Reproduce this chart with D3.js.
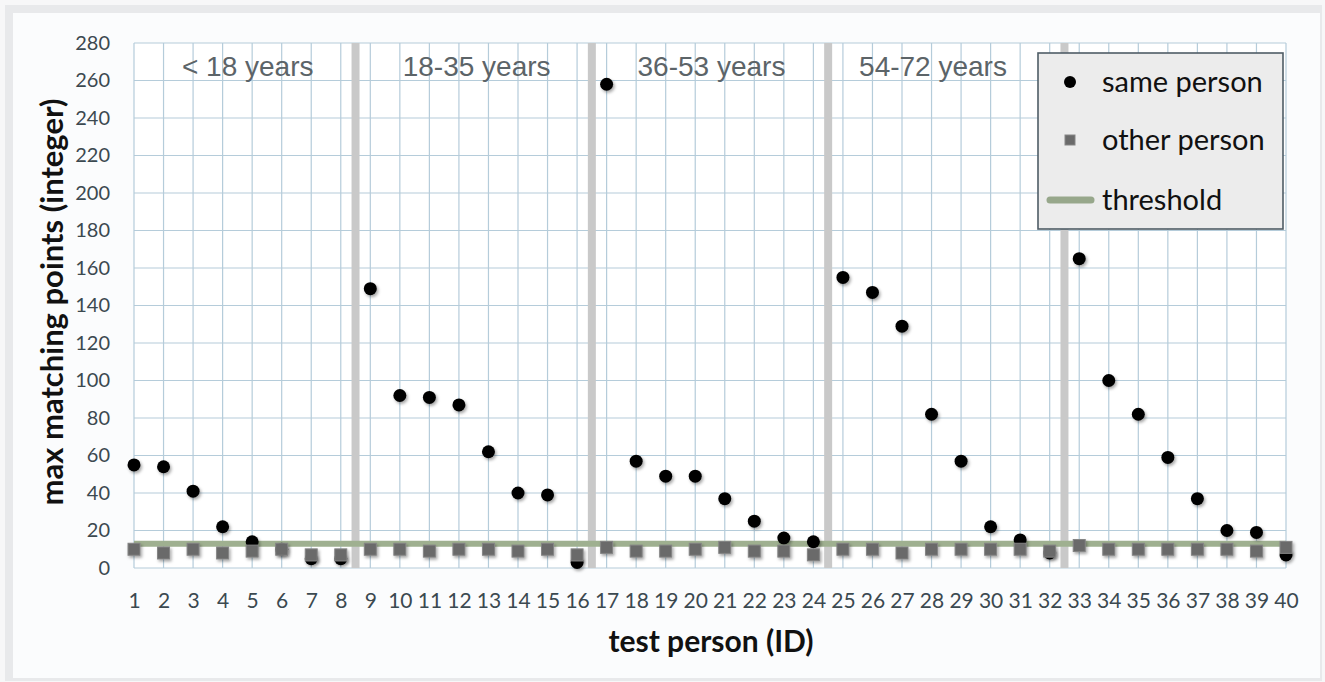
<!DOCTYPE html>
<html>
<head>
<meta charset="utf-8">
<script src="https://d3js.org/d3.v7.min.js"></script>
<style>
    body { margin: 0; background: #f7f7f8; }
    .tick text { fill: #3b4950; font-family: Lato, "Open Sans", sans-serif; font-size: 20px; }
    .grid line { stroke: #b5ccda; stroke-width: 1.2; }
</style>
</head>
<body>
<script>
//test person IDs on the x axis
var ids = d3.range(1, 41);

//max matching points, same person (black dots)
var samePerson = [55, 54, 41, 22, 14, 10, 5, 5, 149, 92,
    91, 87, 62, 40, 39, 3, 258, 57, 49, 49,
    37, 25, 16, 14, 155, 147, 129, 82, 57, 22,
    15, 8, 165, 100, 82, 59, 37, 20, 19, 7];

//max matching points, other person (grey squares)
var otherPerson = [10, 8, 10, 8, 9, 10, 7, 7, 10, 10,
    9, 10, 10, 9, 10, 7, 11, 9, 9, 10,
    11, 9, 9, 7, 10, 10, 8, 10, 10, 10,
    10, 9, 12, 10, 10, 10, 10, 10, 9, 11];

//threshold value
var threshold = 13;

//age groups: label, boundary after which a grey band is drawn, label anchor (ID units)
var ageGroups = ["< 18 years", "18-35 years", "36-53 years", "54-72 years"];
var groupBounds = [8.5, 16.5, 24.5, 32.5];
var groupLabelAt = [4.85, 12.6, 20.55, 28.05];

//y tick values
var yTicks = d3.range(0, 281, 20);

//legend entries
var legendItems = ["same person", "other person", "threshold"];

//SVG dimension variables
var w = 1325, h = 682;

var svg = d3.select("body")
    .append("svg")
    .attr("width", w)
    .attr("height", h)
    .attr("class", "container");

//drop shadow for the markers
var defs = svg.append("defs");
var shadow = defs.append("filter")
    .attr("id", "shadow")
    .attr("x", "-50%").attr("y", "-50%")
    .attr("width", "200%").attr("height", "200%");
shadow.append("feDropShadow")
    .attr("dx", 1.5)
    .attr("dy", 2)
    .attr("stdDeviation", 1.6)
    .attr("flood-color", "#000")
    .attr("flood-opacity", 0.35);

//outer frame
svg.append("rect")
    .attr("x", 5).attr("y", 5)
    .attr("width", 1317).attr("height", 676)
    .style("fill", "#e8e9eb");
svg.append("rect")
    .attr("x", 13).attr("y", 13)
    .attr("width", 1307).attr("height", 665)
    .style("fill", "#fbfcfd");

//scales
var x = d3.scaleLinear()
    .domain([1, 40])
    .range([134, 1286]);

var y = d3.scaleLinear()
    .domain([0, 280])
    .range([568, 43]);

//plot area
svg.append("rect")
    .attr("x", x(1))
    .attr("y", y(280))
    .attr("width", x(40) - x(1))
    .attr("height", y(0) - y(280))
    .style("fill", "#ffffff");

//horizontal grid
var hGrid = svg.append("g")
    .attr("class", "grid")
    .selectAll("line")
    .data(yTicks)
    .enter()
    .append("line")
    .attr("x1", x(1))
    .attr("x2", x(40))
    .attr("y1", function(d){ return y(d); })
    .attr("y2", function(d){ return y(d); });

//vertical grid
var vGrid = svg.append("g")
    .attr("class", "grid")
    .selectAll("line")
    .data(ids)
    .enter()
    .append("line")
    .attr("x1", function(d){ return x(d); })
    .attr("x2", function(d){ return x(d); })
    .attr("y1", y(280))
    .attr("y2", y(0));

//grey bands between age groups
var bands = svg.selectAll(".bands")
    .data(groupBounds)
    .enter()
    .append("line")
    .attr("class", "bands")
    .attr("x1", function(d){ return x(d); })
    .attr("x2", function(d){ return x(d); })
    .attr("y1", y(280))
    .attr("y2", y(0))
    .style("stroke", "#c9c9c9")
    .style("stroke-width", 8);

//age group labels
var groupLabels = svg.selectAll(".groupLabels")
    .data(ageGroups)
    .enter()
    .append("text")
    .attr("class", "groupLabels")
    .attr("text-anchor", "middle")
    .attr("x", function(d, i){ return x(groupLabelAt[i]); })
    .attr("y", 76)
    .style("font-family", "'Liberation Sans', Arial, sans-serif")
    .style("font-size", "28px")
    .style("fill", "#5c6468")
    .text(function(d){ return d; });

//threshold line
var thresholdLine = svg.append("line")
    .attr("class", "thresholdLine")
    .attr("x1", x(1))
    .attr("x2", x(40))
    .attr("y1", y(threshold))
    .attr("y2", y(threshold))
    .style("stroke", "#9fb090")
    .style("stroke-width", 6);

//same person dots
var dots = svg.selectAll(".dots")
    .data(samePerson)
    .enter()
    .append("circle")
    .attr("class", "dots")
    .attr("cx", function(d, i){ return x(ids[i]); })
    .attr("cy", function(d){ return y(d); })
    .attr("r", 6.5)
    .attr("filter", "url(#shadow)")
    .style("fill", "#000");

//other person squares
var sq = 12;
var squares = svg.selectAll(".squares")
    .data(otherPerson)
    .enter()
    .append("rect")
    .attr("class", "squares")
    .attr("x", function(d, i){ return x(ids[i]) - sq / 2; })
    .attr("y", function(d){ return y(d) - sq / 2; })
    .attr("width", sq)
    .attr("height", sq)
    .attr("filter", "url(#shadow)")
    .style("fill", "#6a6a6a")
    .style("stroke", "#858585")
    .style("stroke-width", 1);

//axes
var yAxis = svg.append("g")
    .attr("class", "axis")
    .attr("transform", "translate(" + x(1) + ",0)")
    .call(d3.axisLeft(y).tickValues(yTicks).tickSize(0).tickPadding(24));
yAxis.select(".domain").remove();

var xAxis = svg.append("g")
    .attr("class", "axis")
    .attr("transform", "translate(0," + y(0) + ")")
    .call(d3.axisBottom(x).tickValues(ids).tickSize(0).tickPadding(25));
xAxis.select(".domain").remove();
xAxis.selectAll("text").style("font-size", "21px");

//axis titles
svg.append("text")
    .attr("class", "yTitle")
    .attr("text-anchor", "middle")
    .attr("transform", "translate(63,302) rotate(-90)")
    .style("font-family", "Lato, sans-serif")
    .style("font-weight", "bold")
    .style("font-size", "31px")
    .style("fill", "#111")
    .text("max matching points (integer)");

svg.append("text")
    .attr("class", "xTitle")
    .attr("text-anchor", "middle")
    .attr("x", 711)
    .attr("y", 652)
    .style("font-family", "Lato, sans-serif")
    .style("font-weight", "bold")
    .style("font-size", "30px")
    .style("fill", "#111")
    .text("test person (ID)");

//legend
var legend = svg.append("g")
    .attr("class", "legend")
    .attr("transform", "translate(1038,53)");

legend.append("rect")
    .attr("width", 245)
    .attr("height", 176)
    .style("fill", "#ececec")
    .style("stroke", "#4f5d66")
    .style("stroke-width", 1.6);

var rowY = [29, 87, 147];

legend.append("circle")
    .attr("cx", 32).attr("cy", rowY[0])
    .attr("r", 6)
    .style("fill", "#000");

legend.append("rect")
    .attr("x", 27).attr("y", rowY[1] - 5)
    .attr("width", 10).attr("height", 10)
    .style("fill", "#6a6a6a")
    .style("stroke", "#858585");

legend.append("line")
    .attr("x1", 12).attr("x2", 53)
    .attr("y1", rowY[2]).attr("y2", rowY[2])
    .style("stroke", "#97a78b")
    .style("stroke-width", 7)
    .style("stroke-linecap", "round");

legend.selectAll(".legendText")
    .data(legendItems)
    .enter()
    .append("text")
    .attr("class", "legendText")
    .attr("x", 64)
    .attr("y", function(d, i){ return rowY[i]; })
    .attr("dy", "0.35em")
    .style("font-family", "Lato, sans-serif")
    .style("font-size", "29px")
    .style("fill", "#111")
    .text(function(d){ return d; });
</script>
</body>
</html>
